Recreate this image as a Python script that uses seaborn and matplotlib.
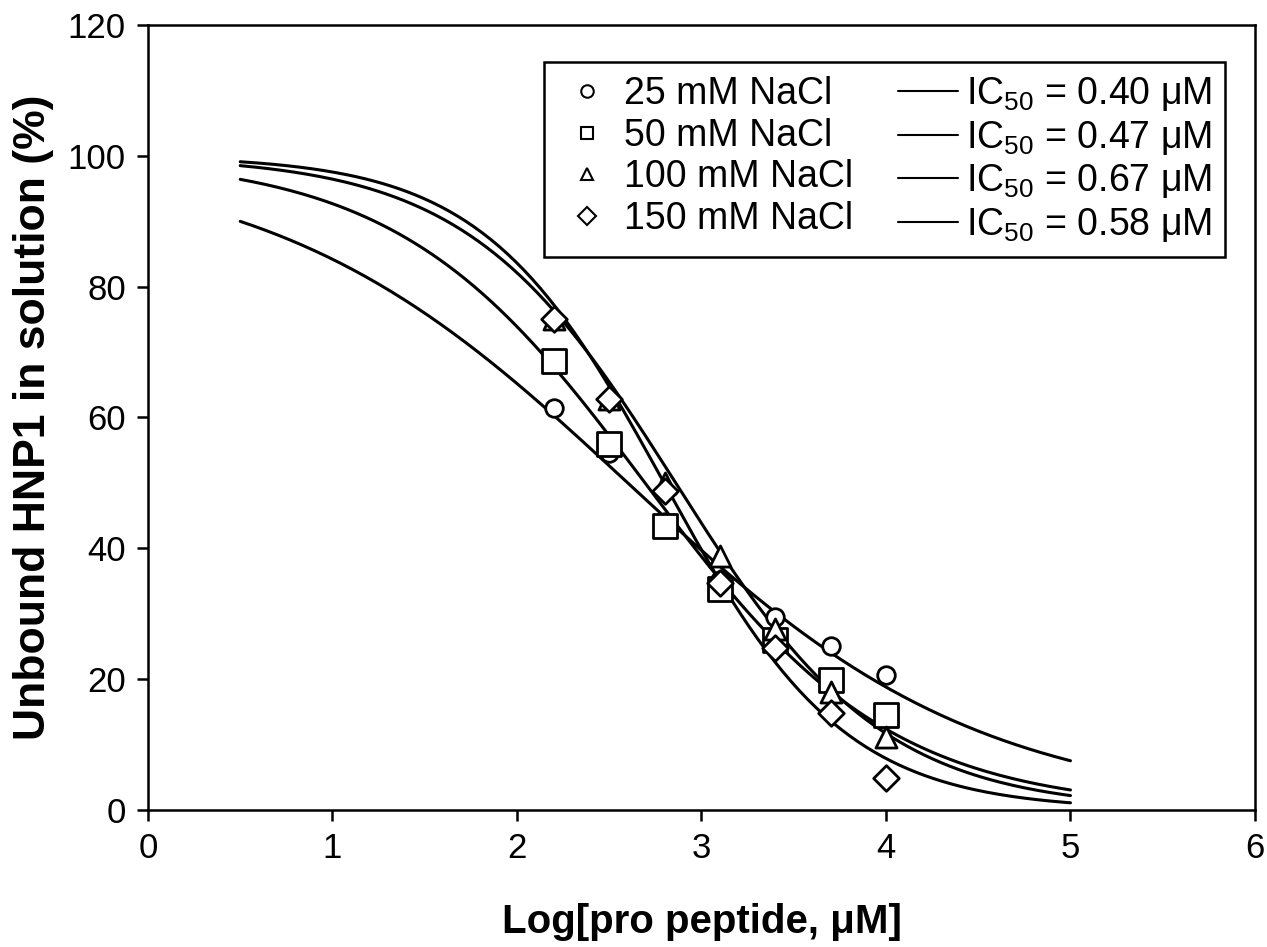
import numpy as np
import pandas as pd
import seaborn as sns
import matplotlib.pyplot as plt
from matplotlib.lines import Line2D

log_conc = [2.2, 2.5, 2.8, 3.1, 3.4, 3.7, 4.0]
nacl_labels = ['25 mM NaCl', '50 mM NaCl', '100 mM NaCl', '150 mM NaCl']
unbound_25 = [61.5, 54.5, 44.0, 35.2, 29.5, 25.0, 20.7]
unbound_50 = [68.6, 55.9, 43.4, 33.8, 26.0, 19.8, 14.5]
unbound_100 = [75.0, 62.8, 50.0, 38.8, 27.7, 18.0, 11.2]
unbound_150 = [75.0, 62.8, 48.7, 34.7, 24.8, 14.9, 4.9]

# fitted dose-response curves: 100 / (1 + 10^(hill*(x - mid)))
fit_mid = [2.60, 2.694, 2.86, 2.797]
fit_hill = [0.454, 0.651, 0.770, 0.888]
ic50_labels = ['0.40', '0.47', '0.67', '0.58']

markers = ['o', 's', '^', 'D']
marker_sizes = [160, 280, 230, 170]

sns.set_style('ticks', {'axes.edgecolor': 'black', 'xtick.color': 'black',
                        'ytick.color': 'black', 'text.color': 'black',
                        'axes.labelcolor': 'black'})
plt.rcParams['font.family'] = ['Liberation Sans', 'DejaVu Sans']
plt.rcParams['mathtext.default'] = 'regular'

rows = []
for lab, vals in zip(nacl_labels, [unbound_25, unbound_50, unbound_100, unbound_150]):
    for x, y in zip(log_conc, vals):
        rows.append({'x': x, 'y': y, 'salt': lab})
pts = pd.DataFrame(rows)

xfit = np.linspace(0.5, 5, 200)
crows = []
for lab, mid, h in zip(nacl_labels, fit_mid, fit_hill):
    yfit = 100 / (1 + 10 ** (h * (xfit - mid)))
    crows.append(pd.DataFrame({'x': xfit, 'y': yfit, 'salt': lab}))
curves = pd.concat(crows, ignore_index=True)

fig = plt.figure(figsize=(12.67, 9.47), dpi=100)
ax = fig.add_axes([0.1168, 0.1447, 0.8737, 0.8289])

sns.lineplot(data=curves, x='x', y='y', units='salt', estimator=None,
             color='black', linewidth=2.2, ax=ax, legend=False)
for lab, m, s in zip(nacl_labels, markers, marker_sizes):
    sns.scatterplot(data=pts[pts['salt'] == lab], x='x', y='y', marker=m, s=s,
                    facecolor='white', edgecolor='black', linewidth=2, ax=ax,
                    legend=False, zorder=3)

ax.set_xlim(0, 6)
ax.set_ylim(0, 120)
ax.set_xticks(range(0, 7))
ax.set_yticks(range(0, 121, 20))
ax.tick_params(direction='out', length=8, width=1.8, labelsize=25, pad=8)
for sp in ax.spines.values():
    sp.set_linewidth(1.8)
    sp.set_visible(True)

ax.set_xlabel('Log[pro peptide, μM]', fontsize=29, fontweight='bold', labelpad=27)
ax.set_ylabel('Unbound HNP1 in solution (%)', fontsize=32, fontweight='bold', labelpad=10)

handles = [Line2D([], [], linestyle='none', marker=m, markersize=9, markerfacecolor='white',
                  markeredgecolor='black', markeredgewidth=1.5) for m in markers]
handles += [Line2D([], [], color='black', linewidth=1.5) for _ in ic50_labels]
labels = list(nacl_labels) + ['IC$_{50}$ = ' + v + ' μM' for v in ic50_labels]
leg = ax.legend(handles, labels, ncol=2, loc='upper right', bbox_to_anchor=(0.973, 0.953),
                fontsize=27, frameon=True, fancybox=False, edgecolor='black',
                handlelength=1.6, handletextpad=0.2, columnspacing=1.2,
                labelspacing=0.15, borderpad=0.35, borderaxespad=0)
leg.get_frame().set_linewidth(1.8)
leg.get_frame().set_alpha(1)

fig.savefig('out.png', dpi=100)
